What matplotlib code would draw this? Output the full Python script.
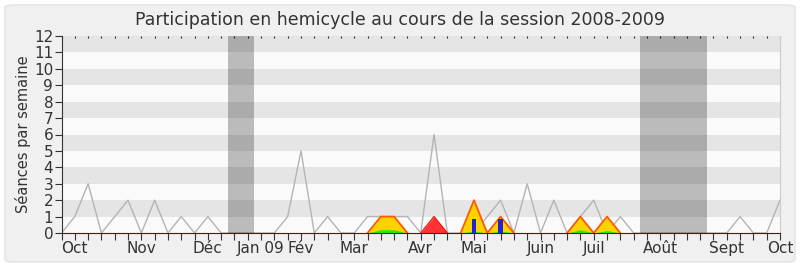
import matplotlib.pyplot as plt
from matplotlib.patches import FancyBboxPatch
import numpy as np

# one point per week, Oct 2008 -> Oct 2009
weeks = list(range(55))
seances = [0, 1, 3, 0, 1, 2, 0, 2, 0, 1, 0, 1, 0,
           0, 0, 0,
           0, 1, 5, 0, 1, 0, 0, 1, 1, 1, 1, 0, 6, 0, 0, 0, 1, 2, 0, 3, 0, 2, 0, 1, 2, 0, 1, 0,
           0, 0, 0, 0, 0, 0,
           0, 1, 0, 0, 2]
presence = [0] * 55
for i, v in {24: 1, 25: 1, 31: 2, 33: 1, 39: 1, 41: 1}.items():
    presence[i] = v
mediatique = [0] * 55
mediatique[28] = 1
interventions = [0] * 55
for i, v in {24: 0.2, 25: 0.2, 31: 0.12, 33: 0.12, 39: 0.2, 41: 0.15}.items():
    interventions[i] = v
questions_weeks = [31, 33]
questions = [0.85, 0.85]
vacances = [(12.5, 14.5), (43.5, 48.5)]
month_pos = [1, 6, 11, 15, 18, 22, 27, 31, 36, 40, 45, 50, 54]
month_labels = ["Oct", "Nov", "Déc", "Jan 09", "Fév", "Mar", "Avr", "Mai",
                "Juin", "Juil", "Août", "Sept", "Oct"]


def outline(vals):
    # keep only the parts of a series that leave the baseline
    v = np.array(vals, dtype=float)
    keep = v > 0
    keep[:-1] |= v[1:] > 0
    keep[1:] |= v[:-1] > 0
    return np.ma.masked_where(~keep, v)


fig = plt.figure(figsize=(8, 2.67), dpi=100, facecolor="white")
frame = FancyBboxPatch((5 / 800, 5 / 267), 790 / 800, 257 / 267,
                       boxstyle="round,pad=0,rounding_size=0.01",
                       transform=fig.transFigure, facecolor="#f0f0f0",
                       edgecolor="#e2e2e2", lw=1, zorder=-10)
fig.patches.append(frame)

ax = fig.add_axes([61.5 / 800, 34 / 267, 718.5 / 800, 197 / 267])
ax.set_facecolor("#fafafa")
for y0 in range(1, 12, 2):
    ax.axhspan(y0, y0 + 1, color="#e5e5e5", lw=0, zorder=0)

ax.plot(weeks, seances, color="#b4b4b4", lw=1, zorder=2)
ax.fill_between(weeks, presence, color="#ffd200", lw=0, zorder=3)
ax.plot(weeks, outline(presence), color="#ff5a00", lw=1.3, zorder=4)
ax.fill_between(weeks, mediatique, color="#ff3333", lw=0, zorder=3)
ax.plot(weeks, outline(mediatique), color="#ee2020", lw=1, zorder=4)
ax.fill_between(weeks, interventions, color="#22ee00", lw=0, zorder=4)
ax.bar(questions_weeks, questions, width=0.34, color="#2222dd", zorder=5)

for a, b in vacances:
    ax.axvspan(a, b, color="black", alpha=0.25, lw=0, zorder=6)

ax.set_xlim(0, 54)
ax.set_ylim(0, 12)
ax.set_yticks(range(13))
labels = [""] * 55
for p, name in zip(month_pos, month_labels):
    labels[p] = name
ax.set_xticks(weeks)
ax.set_xticklabels(labels)
ax.tick_params(axis="x", length=5, color="#333333", direction="out", pad=1,
               labelsize=11, labelcolor="#333333")
ax.tick_params(axis="y", length=5, color="#333333", labelsize=11, labelcolor="#333333", pad=1)

top = ax.secondary_xaxis("top")
top.set_xticks(weeks)
top.set_xticklabels([])
top.tick_params(length=1.5, direction="in", color="#222222")
top.spines["top"].set_visible(False)

ax.spines["top"].set_visible(False)
ax.spines["right"].set_color("#cccccc")
ax.spines["left"].set_color("#333333")
ax.spines["bottom"].set_color("#402010")
ax.spines["bottom"].set_zorder(7)

ax.set_ylabel("Séances par semaine", fontsize=10.5, color="#333333", labelpad=2)
fig.text(0.5, 0.925, "Participation en hemicycle au cours de la session 2008-2009",
         ha="center", va="center", fontsize=12.5, color="#333333")

fig.savefig("out.png", dpi=100, facecolor=fig.get_facecolor())
